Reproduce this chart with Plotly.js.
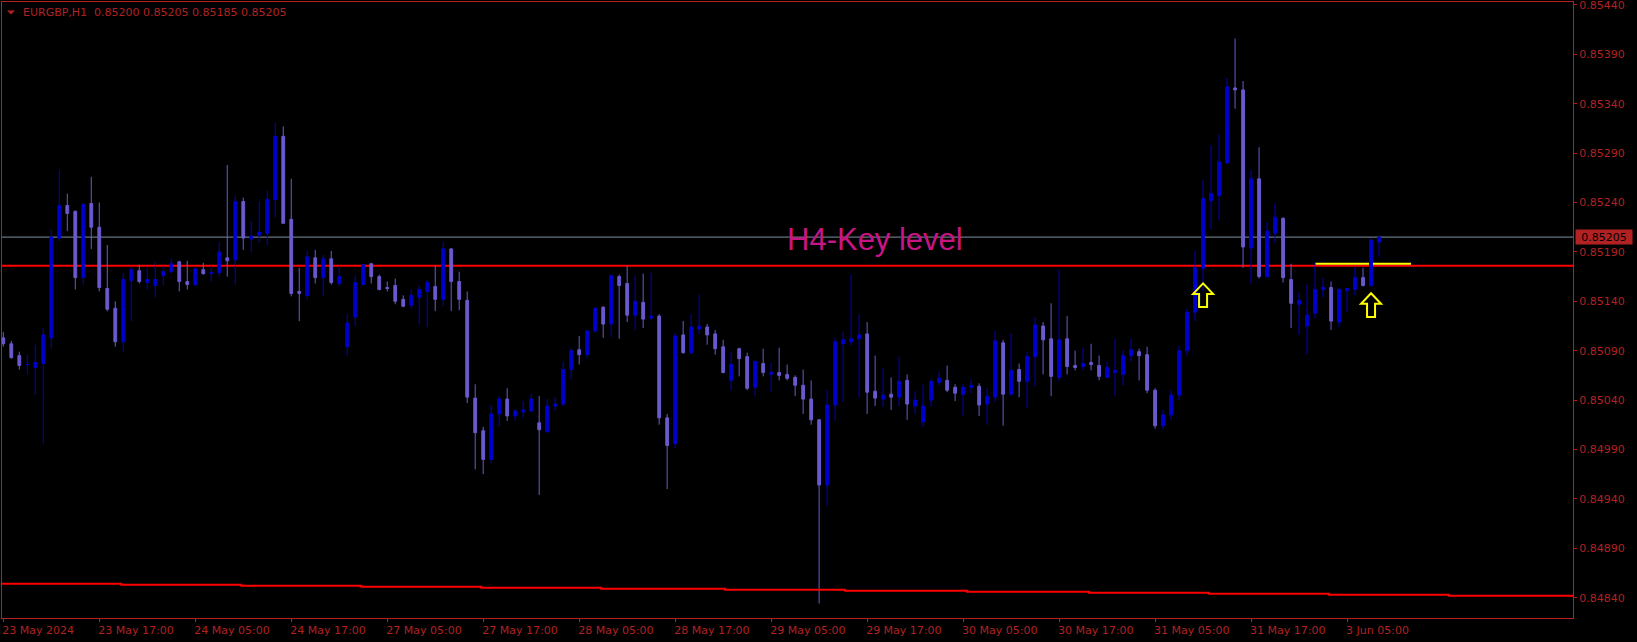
<!DOCTYPE html>
<html>
<head>
<meta charset="utf-8">
<script src="https://cdn.plot.ly/plotly-3.0.1.min.js"></script>
<style>
  html, body { margin: 0; padding: 0; background: #000; }
  #chart { width: 1637px; height: 642px; }
</style>
</head>
<body>
<div id="chart"></div>
<script>
// ---- Data (EURGBP, H1) ----
const symbolLabel = "EURGBP,H1";
const barIndex = Array.from({length: 173}, (_, i) => i);

const opens = [
0.85103,0.85097,0.85085,0.85076,0.85073,0.85077,0.85103,0.85204,0.85237,0.85231,
0.85164,0.85239,0.85215,0.85153,0.85133,0.85099,0.85161,0.85171,0.85159,0.85156,
0.85166,0.85170,0.85180,0.85160,0.85157,0.85172,0.85168,0.85169,0.85184,0.85182,
0.85241,0.85203,0.85207,0.85209,0.85243,0.85307,0.85223,0.85150,0.85146,0.85184,
0.85164,0.85183,0.85158,0.85094,0.85124,0.85157,0.85178,0.85165,0.85154,0.85156,
0.85142,0.85136,0.85144,0.85150,0.85155,0.85142,0.85193,0.85160,0.85141,0.85042,
0.85009,0.84980,0.85026,0.85041,0.85024,0.85028,0.85029,0.85017,0.85008,0.85034,
0.85036,0.85071,0.85091,0.85086,0.85110,0.85134,0.85117,0.85165,0.85158,0.85126,
0.85139,0.85123,0.85125,0.85022,0.84996,0.85106,0.85088,0.85112,0.85114,0.85107,
0.85094,0.85060,0.85092,0.85084,0.85053,0.85077,0.85066,0.85068,0.85066,0.85063,
0.85055,0.85041,0.85020,0.84954,0.85035,0.85097,0.85099,0.85102,0.85107,0.85049,
0.85041,0.85046,0.85043,0.85060,0.85034,0.85018,0.85040,0.85058,0.85060,0.85053,
0.85046,0.85053,0.85054,0.85036,0.85043,0.85098,0.85046,0.85071,0.85059,0.85084,
0.85115,0.85102,0.85063,0.85102,0.85075,0.85074,0.85078,0.85075,0.85063,0.85068,
0.85066,0.85085,0.85089,0.85086,0.85050,0.85014,0.85025,0.85045,0.85090,0.85129,
0.85173,0.85242,0.85247,0.85280,0.85356,0.85354,0.85194,0.85264,0.85165,0.85209,
0.85224,0.85162,0.85137,0.85115,0.85128,0.85152,0.85154,0.85119,0.85151,0.85152,
0.85164,0.85156,0.85200];

const highs = [
0.85109,0.85100,0.85089,0.85086,0.85096,0.85113,0.85213,0.85273,0.85249,0.85232,
0.85240,0.85266,0.85240,0.85197,0.85140,0.85169,0.85175,0.85177,0.85174,0.85180,
0.85176,0.85183,0.85181,0.85181,0.85174,0.85179,0.85176,0.85200,0.85278,0.85247,
0.85245,0.85221,0.85241,0.85252,0.85321,0.85317,0.85264,0.85174,0.85191,0.85192,
0.85187,0.85191,0.85176,0.85127,0.85166,0.85178,0.85179,0.85167,0.85160,0.85163,
0.85146,0.85152,0.85156,0.85162,0.85176,0.85200,0.85194,0.85170,0.85150,0.85056,
0.85013,0.85035,0.85044,0.85052,0.85031,0.85039,0.85046,0.85044,0.85041,0.85043,
0.85079,0.85093,0.85105,0.85111,0.85134,0.85135,0.85167,0.85167,0.85176,0.85166,
0.85168,0.85169,0.85127,0.85026,0.85108,0.85120,0.85127,0.85147,0.85117,0.85111,
0.85101,0.85089,0.85093,0.85088,0.85080,0.85092,0.85078,0.85093,0.85076,0.85065,
0.85071,0.85060,0.85021,0.85050,0.85103,0.85109,0.85167,0.85127,0.85119,0.85085,
0.85072,0.85063,0.85084,0.85066,0.85049,0.85056,0.85061,0.85069,0.85075,0.85056,
0.85056,0.85061,0.85057,0.85052,0.85110,0.85101,0.85108,0.85077,0.85089,0.85124,
0.85119,0.85138,0.85172,0.85125,0.85090,0.85093,0.85097,0.85085,0.85079,0.85102,
0.85090,0.85102,0.85092,0.85094,0.85052,0.85030,0.85050,0.85095,0.85133,0.85191,
0.85263,0.85298,0.85309,0.85366,0.85406,0.85363,0.85273,0.85296,0.85220,0.85239,
0.85225,0.85178,0.85149,0.85157,0.85179,0.85164,0.85160,0.85153,0.85153,0.85174,
0.85174,0.85203,0.85205];

const lows = [
0.85094,0.85082,0.85071,0.85066,0.85045,0.84996,0.85092,0.85201,0.85211,0.85152,
0.85157,0.85193,0.85150,0.85130,0.85094,0.85089,0.85120,0.85158,0.85152,0.85144,
0.85156,0.85168,0.85150,0.85152,0.85155,0.85167,0.85160,0.85165,0.85165,0.85157,
0.85192,0.85190,0.85199,0.85197,0.85225,0.85219,0.85145,0.85120,0.85142,0.85158,
0.85146,0.85157,0.85155,0.85085,0.85115,0.85156,0.85158,0.85151,0.85150,0.85137,
0.85134,0.85132,0.85117,0.85114,0.85130,0.85135,0.85130,0.85131,0.85037,0.84970,
0.84965,0.84976,0.85013,0.85019,0.85019,0.85022,0.85028,0.84944,0.85007,0.85029,
0.85034,0.85061,0.85076,0.85082,0.85108,0.85103,0.85104,0.85102,0.85119,0.85111,
0.85113,0.85121,0.85015,0.84950,0.84991,0.85087,0.85086,0.85107,0.85096,0.85086,
0.85067,0.85050,0.85064,0.85050,0.85044,0.85064,0.85048,0.85060,0.85060,0.85044,
0.85026,0.85015,0.84834,0.84933,0.85019,0.85038,0.85095,0.85043,0.85026,0.85034,
0.85033,0.85030,0.85034,0.85020,0.85026,0.85013,0.85034,0.85055,0.85048,0.85039,
0.85024,0.85047,0.85024,0.85015,0.85038,0.85014,0.85044,0.85043,0.85032,0.85054,
0.85066,0.85044,0.85059,0.85066,0.85070,0.85070,0.85070,0.85060,0.85062,0.85044,
0.85055,0.85079,0.85060,0.85047,0.85011,0.85010,0.85020,0.85040,0.85085,0.85120,
0.85150,0.85213,0.85222,0.85279,0.85335,0.85174,0.85158,0.85163,0.85164,0.85199,
0.85159,0.85113,0.85106,0.85086,0.85123,0.85144,0.85111,0.85114,0.85129,0.85146,
0.85155,0.85155,0.85185];

const closes = [
0.85097,0.85083,0.85075,0.85076,0.85078,0.85106,0.85205,0.85237,0.85229,0.85164,
0.85238,0.85215,0.85154,0.85132,0.85099,0.85162,0.85172,0.85160,0.85162,0.85162,
0.85170,0.85178,0.85160,0.85157,0.85173,0.85168,0.85169,0.85190,0.85181,0.85241,
0.85204,0.85206,0.85210,0.85243,0.85307,0.85219,0.85148,0.85148,0.85185,0.85164,
0.85183,0.85159,0.85165,0.85118,0.85159,0.85177,0.85165,0.85152,0.85153,0.85140,
0.85135,0.85146,0.85152,0.85159,0.85142,0.85193,0.85160,0.85142,0.85043,0.85007,
0.84980,0.85026,0.85041,0.85024,0.85029,0.85030,0.85041,0.85010,0.85034,0.85036,
0.85071,0.85090,0.85086,0.85110,0.85133,0.85117,0.85166,0.85156,0.85126,0.85140,
0.85122,0.85125,0.85022,0.84994,0.85105,0.85088,0.85114,0.85115,0.85106,0.85092,
0.85068,0.85076,0.85082,0.85052,0.85079,0.85068,0.85068,0.85065,0.85062,0.85055,
0.85041,0.85020,0.84954,0.85035,0.85099,0.85101,0.85102,0.85106,0.85048,0.85042,
0.85045,0.85043,0.85059,0.85036,0.85040,0.85034,0.85059,0.85062,0.85050,0.85047,
0.85053,0.85055,0.85035,0.85044,0.85100,0.85046,0.85070,0.85059,0.85084,0.85116,
0.85101,0.85064,0.85101,0.85074,0.85073,0.85077,0.85076,0.85064,0.85073,0.85070,
0.85085,0.85091,0.85085,0.85050,0.85014,0.85025,0.85045,0.85090,0.85129,0.85174,
0.85244,0.85249,0.85281,0.85357,0.85354,0.85195,0.85264,0.85165,0.85211,0.85225,
0.85164,0.85138,0.85141,0.85126,0.85152,0.85154,0.85120,0.85152,0.85153,0.85164,
0.85156,0.85202,0.85205];

// time-axis ticks (every 12 bars)
const tickIdx = [0,12,24,36,48,60,72,84,96,108,120,132,144,156,168];
const tickLabels = ["23 May 2024","23 May 17:00","24 May 05:00","24 May 17:00",
  "27 May 05:00","27 May 17:00","28 May 05:00","28 May 17:00","29 May 05:00",
  "29 May 17:00","30 May 05:00","30 May 17:00","31 May 05:00","31 May 17:00","3 Jun 05:00"];

// price axis
const priceTicks = [0.84840,0.84890,0.84940,0.84990,0.85040,0.85090,0.85140,0.85190,0.85240,0.85290,0.85340,0.85390,0.85440];
const priceRange = [0.848194, 0.854430];

// chart objects
const bidPrice = 0.85205;
const keyLevel = 0.85176;
const keyLabel = "H4-Key level";
const keyLabelIdx = 109, keyLabelPrice = 0.85203;
const zoneStartIdx = 164, zoneEndIdx = 176, zoneLevel = 0.85178;
const arrowIdx = [150, 171];
const arrowPrice = [0.85146, 0.85136];

// lower stepped indicator line
const stepX = [-0.5,14.75,29.75,44.75,59.75,74.75,90.25,105.25,120.5,135.75,150.75,165.75,180.75,197];
const stepY = [0.84854,0.84853,0.84852,0.84851,0.84850,0.84849,0.84848,0.84847,0.84846,0.84845,0.84844,0.84843,0.84842,0.84842];

// ---- Styles ----
const axisColor = "#B22222";
const bullColor = "#0000CD";
const bearColor = "#6A5ACD";
const tickFont = {family: "DejaVu Sans", size: 11, color: axisColor};
const arrowPath = "M0,12 L10,1.5 L4,1.5 L4,-11.7 L-4,-11.7 L-4,1.5 L-10,1.5 Z";

const candles = {
  type: "candlestick",
  x: barIndex, open: opens, high: highs, low: lows, close: closes,
  increasing: {line: {color: bullColor, width: 1}, fillcolor: bullColor},
  decreasing: {line: {color: bearColor, width: 1}, fillcolor: bearColor},
  whiskerwidth: 0,
  hoverinfo: "skip"
};

const stepLine = {
  type: "scatter", mode: "lines", x: stepX, y: stepY,
  line: {color: "#FF0000", width: 2, shape: "hv"}, hoverinfo: "skip"
};

const last = opens.length - 1;
const headerText = symbolLabel + "\u00A0\u00A0" + [opens[last], highs[last], lows[last], closes[last]].map(v => v.toFixed(5)).join(" ");

const arrowShapes = arrowIdx.map((xi, k) => ({
  type: "path", xref: "x", yref: "y", xsizemode: "pixel", ysizemode: "pixel",
  xanchor: xi, yanchor: arrowPrice[k], path: arrowPath,
  line: {color: "#FFFF00", width: 2}, fillcolor: "rgba(0,0,0,0)", layer: "above"
}));

const layout = {
  width: 1637, height: 642,
  margin: {l: 2, r: 64, t: 2, b: 24, pad: 0},
  paper_bgcolor: "#000000", plot_bgcolor: "#000000",
  showlegend: false,
  boxgap: 0.5,
  xaxis: {
    range: [-0.1625, 196.25], tickmode: "array", tickvals: tickIdx, ticktext: tickLabels,
    ticklabelposition: "outside right", ticklabelshift: -2, ticklabelstandoff: 2,
    ticks: "outside", ticklen: 3, tickwidth: 1, tickcolor: axisColor,
    showline: true, mirror: true, linecolor: axisColor, linewidth: 1,
    showgrid: false, zeroline: false, tickfont: tickFont,
    rangeslider: {visible: false}, fixedrange: true
  },
  yaxis: {
    side: "right", range: priceRange, tickmode: "array", tickvals: priceTicks,
    ticktext: priceTicks.map(v => v.toFixed(5)), ticklabeloverflow: "allow",
    ticks: "outside", ticklen: 3, tickwidth: 1, tickcolor: axisColor,
    showline: true, mirror: true, linecolor: axisColor, linewidth: 1,
    showgrid: false, zeroline: false, tickfont: tickFont, fixedrange: true
  },
  shapes: [
    {type: "line", xref: "paper", x0: 0, x1: 1, yref: "y", y0: bidPrice, y1: bidPrice,
     line: {color: "#8090A0", width: 1}, layer: "below"},
    {type: "line", xref: "paper", x0: 0, x1: 1, yref: "y", y0: keyLevel, y1: keyLevel,
     line: {color: "#FF0000", width: 2}, layer: "below"},
    {type: "line", xref: "x", x0: zoneStartIdx, x1: zoneEndIdx, yref: "y", y0: zoneLevel, y1: zoneLevel,
     line: {color: "#FFFF00", width: 2}, layer: "below"},
    {type: "path", xref: "paper", yref: "paper", xsizemode: "pixel", ysizemode: "pixel",
     xanchor: 0, yanchor: 1, path: "M5,-8.5 L13,-8.5 L9,-12.5 Z",
     fillcolor: axisColor, line: {color: axisColor, width: 0}}
  ].concat(arrowShapes),
  annotations: [
    {xref: "paper", yref: "paper", x: 0, y: 1, xanchor: "left", yanchor: "middle",
     xshift: 19, yshift: -10.5, showarrow: false, text: headerText,
     font: {family: "DejaVu Sans", size: 11, color: axisColor}},
    {xref: "paper", yref: "y", x: 1, y: bidPrice, xanchor: "left", yanchor: "middle",
     xshift: 2, showarrow: false, text: bidPrice.toFixed(5), bgcolor: axisColor,
     width: 54, height: 12, borderpad: 1, align: "center",
     font: {family: "DejaVu Sans", size: 11, color: "#000000"}},
    {xref: "x", yref: "y", x: keyLabelIdx, y: keyLabelPrice, showarrow: false,
     text: keyLabel, xanchor: "center", yanchor: "middle",
     font: {family: "Liberation Sans", size: 31, color: "#C71585"}}
  ]
};

Plotly.newPlot("chart", [stepLine, candles], layout, {staticPlot: true, displayModeBar: false});
</script>
</body>
</html>
